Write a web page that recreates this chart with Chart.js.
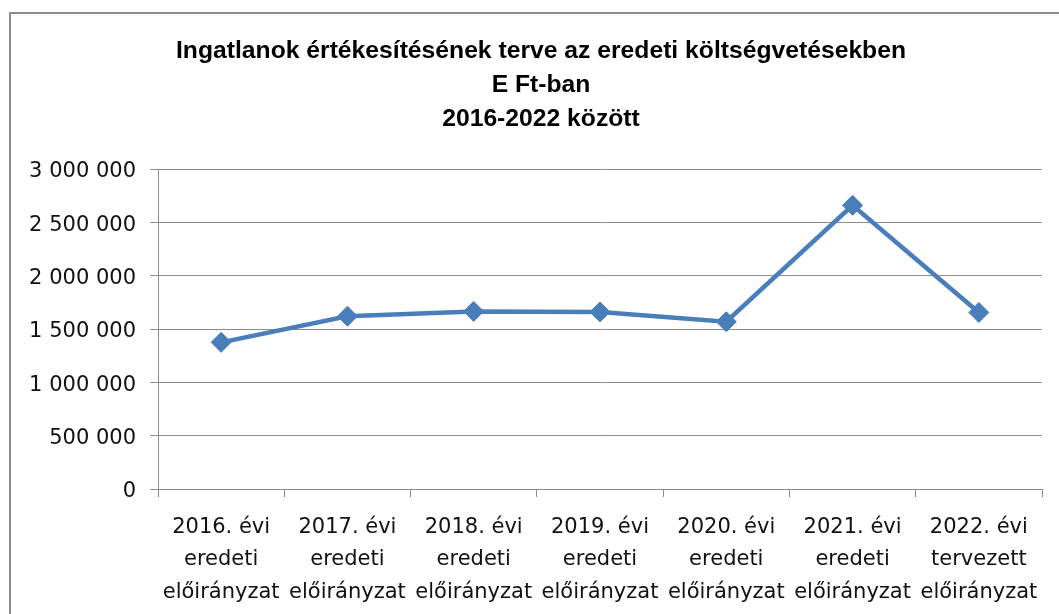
<!DOCTYPE html>
<html>
<head>
<meta charset="utf-8">
<script src="https://cdn.jsdelivr.net/npm/chart.js@4/dist/chart.umd.min.js"></script>
<style>
  html, body { margin: 0; padding: 0; background: #ffffff; }
  #wrap { position: relative; width: 1059px; height: 614px; }
</style>
</head>
<body>
<div id="wrap"><canvas id="c" width="1059" height="614"></canvas></div>
<script>
// ---- data ----
const years = ['2016. évi', '2017. évi', '2018. évi', '2019. évi', '2020. évi', '2021. évi', '2022. évi'];
const kinds = ['eredeti', 'eredeti', 'eredeti', 'eredeti', 'eredeti', 'eredeti', 'tervezett'];
const suffix = ['előirányzat', 'előirányzat', 'előirányzat', 'előirányzat', 'előirányzat', 'előirányzat', 'előirányzat'];
const values = [1375000, 1620000, 1665000, 1660000, 1568000, 2660000, 1655000];
const titleLines = ['Ingatlanok értékesítésének terve az eredeti költségvetésekben', 'E Ft-ban', '2016-2022 között'];
const yTicks = [0, 500000, 1000000, 1500000, 2000000, 2500000, 3000000];

const labels = years.map((y, i) => [y, kinds[i], suffix[i]]);
const fmt = v => String(v).replace(/\B(?=(\d{3})+(?!\d))/g, ' ');

const frame = {
  id: 'frame',
  afterLayout(chart) {
    if (chart.titleBlock) { chart.titleBlock.left = 40; }
  },
  beforeDraw(chart) {
    const ctx = chart.ctx;
    ctx.save();
    ctx.fillStyle = '#ffffff';
    ctx.fillRect(0, 0, chart.width, chart.height);
    ctx.strokeStyle = '#8c8c8c';
    ctx.lineWidth = 2;
    ctx.strokeRect(10, 13, 3000, 3000);
    ctx.restore();
  }
};

const gridColor = '#8c8c8c';
const axisFont = { family: "'DejaVu Sans', sans-serif", size: 21 };

new Chart(document.getElementById('c'), {
  type: 'line',
  data: {
    labels: labels,
    datasets: [{
      data: values,
      borderColor: '#4A7EBB',
      backgroundColor: '#4A7EBB',
      borderWidth: 4.5,
      pointStyle: 'rectRot',
      pointRadius: 10,
      pointBorderWidth: 1,
      pointBorderColor: '#4A7EBB',
      pointBackgroundColor: '#4A7EBB',
      tension: 0,
      fill: false
    }]
  },
  options: {
    responsive: false,
    animation: false,
    layout: { padding: { left: 0, right: 17, top: 0, bottom: 0 } },
    plugins: {
      legend: { display: false },
      tooltip: { enabled: false },
      title: {
        display: true,
        text: titleLines,
        color: '#000000',
        font: { family: "'Liberation Sans', Arial, sans-serif", size: 24.7, weight: 'bold', lineHeight: '34px' },
        padding: { top: 34, bottom: 33 }
      }
    },
    scales: {
      x: {
        offset: true,
        grid: { display: true, drawOnChartArea: false, offset: true, color: gridColor, tickLength: 8, lineWidth: 1 },
        border: { display: true, color: gridColor, width: 1 },
        ticks: {
          color: '#111111',
          font: Object.assign({}, axisFont, { lineHeight: '32.5px' }),
          maxRotation: 0, minRotation: 0, autoSkip: false, padding: 14
        },
        afterFit(scale) { scale.height = 125; }
      },
      y: {
        min: 0, max: 3000000,
        afterBuildTicks(scale) { scale.ticks = yTicks.map(v => ({ value: v })); },
        grid: { color: gridColor, tickLength: 8, lineWidth: 1 },
        border: { display: true, color: gridColor, width: 1 },
        ticks: {
          color: '#111111',
          font: axisFont,
          padding: 14,
          labelOffset: 3,
          callback: v => fmt(v)
        },
        afterFit(scale) { scale.width = 158; }
      }
    }
  },
  plugins: [frame]
});
</script>
</body>
</html>
